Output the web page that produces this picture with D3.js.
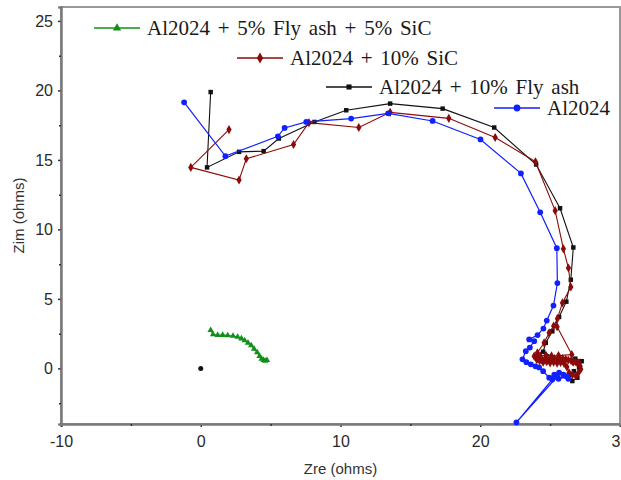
<!DOCTYPE html>
<html>
<head>
<meta charset="utf-8">
<script src="https://cdn.jsdelivr.net/npm/d3@7"></script>
<style>
  body { margin: 0; background: #fff; }
  svg { display: block; }
</style>
</head>
<body>
<div id="chart"></div>
<script>
    // impedance points, [Zre, Zim] in ohms
    var al2024 = [
        [-1.19,19.14],[1.76,15.27],[5.52,16.70],[6.0,17.30],[7.55,17.73],[10.76,17.97],
        [13.41,18.35],[16.59,17.80],[20.02,16.47],[22.91,14.03],[24.29,11.23],[25.48,8.65],
        [25.52,6.14],[25.24,4.52],[24.76,3.44],[24.52,2.87],[24.1,2.4],[23.5,2.08],
        [23.86,1.96],[23.55,1.5],[23.26,1.24],[23.02,0.65],[23.3,0.45],[23.62,0.29],
        [23.95,0.15],[24.21,0.07],[24.5,-0.2],[24.93,-0.67],[25.3,-0.45],[25.64,-0.31],
        [25.95,-0.45],[26.21,-0.57],[25.6,-0.75],[25.16,-0.79],[22.59,-3.89],[25.5,-0.6],
        [26.3,-0.75]
    ];

    var al2024SiC = [
        [2.02,17.18],[-0.71,14.46],[2.74,13.55],[3.26,15.08],[6.64,16.11],[7.74,17.68],
        [11.31,17.33],[13.55,18.42],[17.75,17.99],[21.07,16.61],[23.95,14.87],[25.36,11.35],
        [25.95,8.60],[26.31,7.22],[26.48,5.86],[25.88,4.71],[25.52,3.58],[25.25,3.05],
        [24.93,2.56],[24.57,1.84],[24.09,1.13],[23.86,0.88],[24.05,0.75],[24.2,0.72],
        [24.4,0.62],[24.6,0.66],[24.8,0.58],[24.93,0.65],[25.1,0.72],[25.3,0.7],
        [25.5,0.62],[25.7,0.66],[25.9,0.7],[26.12,0.65],[26.3,0.6],[26.5,0.55],
        [26.65,0.45],[26.8,0.48],[26.95,0.38],[27.07,0.41],[27.15,0.15],[27.19,-0.07],
        [27.0,-0.35],[26.84,-0.55],[26.6,-0.45],[26.36,-0.31],[26.2,0.1],[26.0,0.35],
        [25.75,0.42],[25.5,0.38],[25.25,0.45],[25.0,0.4],[24.75,0.48],[24.5,0.45],
        [24.25,0.55],[24.05,0.62],[24.3,0.9],[24.7,0.95],[25.1,0.9],[25.6,0.92],
        [26.55,1.0],[25.5,3.0]
    ];

    var al2024FlyAsh = [
        [0.71,19.88],[0.45,14.46],[2.74,15.58],[4.5,15.63],[5.59,16.54],[8.14,17.73],
        [10.41,18.57],[13.55,19.05],[17.31,18.69],[21.0,17.33],[24.0,14.67],[25.71,11.52],
        [26.66,8.70],[26.48,6.38],[26.16,4.80],[25.64,3.70],[25.16,2.67],[24.69,1.84],
        [24.5,1.2],[25.2,0.8],[26.0,0.65],[26.8,0.7],[27.26,0.52],[27.07,0.07],
        [26.95,-0.67],[26.59,-0.91],[26.36,-0.43],[26.7,-0.2]
    ];

    // lone black dot at the origin, not joined to anything
    var flyAshOrigin = [[0,0]];

    var al2024FlyAshSiC = [
        [0.71,2.75],[0.88,2.44],[1.21,2.40],[1.57,2.40],[1.93,2.37],[2.31,2.33],
        [2.64,2.26],[2.91,2.15],[3.14,2.01],[3.38,1.84],[3.61,1.65],[3.82,1.40],
        [4.04,1.15],[4.21,0.88],[4.36,0.68],[4.5,0.59],[4.74,0.59],[4.61,0.54]
    ];

    var seriesNames = ["Al2024 + 5% Fly ash + 5% SiC", "Al2024 + 10% SiC", "Al2024 + 10% Fly ash", "Al2024"];

    var xTicks = [-10, 0, 10, 20, 30],
        xMinor = [-5, 5, 15, 25],
        yTicks = [0, 5, 10, 15, 20, 25],
        yMinor = [-2.5, 2.5, 7.5, 12.5, 17.5, 22.5];

    // page and plot box (no "top" here, window.top is taken)
    var w = 621,
        h = 480,
        plotLeft = 61,
        plotRight = 620,
        plotTop = 7,
        plotBottom = 424;

    var x = d3.scaleLinear().domain([-10, 30]).range([plotLeft, plotRight]),
        y = d3.scaleLinear().domain([-4, 26]).range([plotBottom, plotTop]);

    var svg = d3.select("#chart")
        .append("svg")
        .attr("width", w)
        .attr("height", h);

    // grey frame round the plot
    svg.append("rect")
        .attr("x", plotLeft)
        .attr("y", plotTop)
        .attr("width", plotRight - plotLeft)
        .attr("height", plotBottom - plotTop)
        .attr("fill", "none")
        .attr("stroke", "#999")
        .attr("stroke-width", 2);

    // plain hyphen for negatives like the original
    var plainFormat = function(d) { return String(d); };

    svg.append("g")
        .attr("transform", "translate(0," + plotBottom + ")")
        .call(d3.axisBottom(x).tickValues(xTicks).tickSize(3).tickPadding(9).tickFormat(plainFormat));

    svg.append("g")
        .attr("transform", "translate(0," + plotBottom + ")")
        .call(d3.axisBottom(x).tickValues(xMinor).tickSize(2).tickFormat(""));

    svg.append("g")
        .attr("transform", "translate(" + plotLeft + ",0)")
        .call(d3.axisLeft(y).tickValues(yTicks).tickSize(3).tickPadding(5).tickFormat(plainFormat));

    svg.append("g")
        .attr("transform", "translate(" + plotLeft + ",0)")
        .call(d3.axisLeft(y).tickValues(yMinor).tickSize(2).tickFormat(""));

    svg.selectAll(".domain")
        .attr("stroke", "#7a7a7a")
        .attr("stroke-width", 2);

    svg.selectAll(".tick line")
        .attr("stroke", "#333")
        .attr("stroke-width", 1.5);

    svg.selectAll(".tick text")
        .attr("fill", "#2a2a2a")
        .style("font-family", "'Liberation Sans', Arial, sans-serif")
        .style("font-size", "16px");

    // axis titles
    svg.append("text")
        .attr("x", (plotLeft + plotRight) / 2)
        .attr("y", 474)
        .attr("text-anchor", "middle")
        .attr("fill", "#333")
        .style("font-family", "'Liberation Sans', Arial, sans-serif")
        .style("font-size", "15px")
        .text("Zre (ohms)");

    svg.append("text")
        .attr("transform", "translate(24," + ((plotTop + plotBottom) / 2) + ") rotate(-90)")
        .attr("text-anchor", "middle")
        .attr("fill", "#333")
        .style("font-family", "'Liberation Sans', Arial, sans-serif")
        .style("font-size", "15px")
        .text("Zim (ohms)");

    var line = d3.line()
        .x(function(d) { return x(d[0]); })
        .y(function(d) { return y(d[1]); });

    // draw one series, line first then markers on top
    function drawSeries(data, color, symbol, size, width) {
        var g = svg.append("g");

        g.append("path")
            .datum(data)
            .attr("d", line)
            .attr("fill", "none")
            .attr("stroke", color)
            .attr("stroke-width", width);

        g.selectAll("path.mark")
            .data(data)
            .enter().append("path")
            .attr("class", "mark")
            .attr("d", d3.symbol().type(symbol).size(size))
            .attr("transform", function(d) { return "translate(" + x(d[0]) + "," + y(d[1]) + ")"; })
            .attr("fill", color);
    }

    var green = "#12901a",
        darkRed = "#8b0a0a",
        black = "#111",
        blue = "#1020ff";

    drawSeries(al2024FlyAsh, black, d3.symbolSquare, 20, 1.1);
    drawSeries(al2024SiC, darkRed, d3.symbolDiamond, 24, 1.1);
    drawSeries(al2024, blue, d3.symbolCircle, 26, 1.2);
    drawSeries(al2024FlyAshSiC, green, d3.symbolTriangle, 18, 1.2);

    svg.selectAll("circle.origin")
        .data(flyAshOrigin)
        .enter().append("circle")
        .attr("class", "origin")
        .attr("cx", function(d) { return x(d[0]); })
        .attr("cy", function(d) { return y(d[1]); })
        .attr("r", 2.5)
        .attr("fill", black);

    // legend, staggered like the original
    var legend = [
        { name: seriesNames[0], color: green, symbol: d3.symbolTriangle, size: 30, x: 94, y: 28 },
        { name: seriesNames[1], color: darkRed, symbol: d3.symbolDiamond, size: 34, x: 237, y: 58 },
        { name: seriesNames[2], color: black, symbol: d3.symbolSquare, size: 26, x: 326, y: 87 },
        { name: seriesNames[3], color: blue, symbol: d3.symbolCircle, size: 36, x: 494, y: 108 }
    ];

    var items = svg.selectAll("g.legend")
        .data(legend)
        .enter().append("g")
        .attr("class", "legend")
        .attr("transform", function(d) { return "translate(" + d.x + "," + d.y + ")"; });

    items.append("line")
        .attr("x1", 0)
        .attr("x2", 46)
        .attr("stroke", function(d) { return d.color; })
        .attr("stroke-width", 1.5);

    items.append("path")
        .attr("d", function(d) { return d3.symbol().type(d.symbol).size(d.size)(); })
        .attr("transform", "translate(23,0)")
        .attr("fill", function(d) { return d.color; });

    items.append("text")
        .attr("x", 53)
        .attr("y", 7)
        .attr("fill", "#1a1a1a")
        .style("font-family", "'Liberation Serif', 'Times New Roman', serif")
        .style("font-size", "21px")
        .style("word-spacing", "2.5px")
        .text(function(d) { return d.name; });
</script>
</body>
</html>
